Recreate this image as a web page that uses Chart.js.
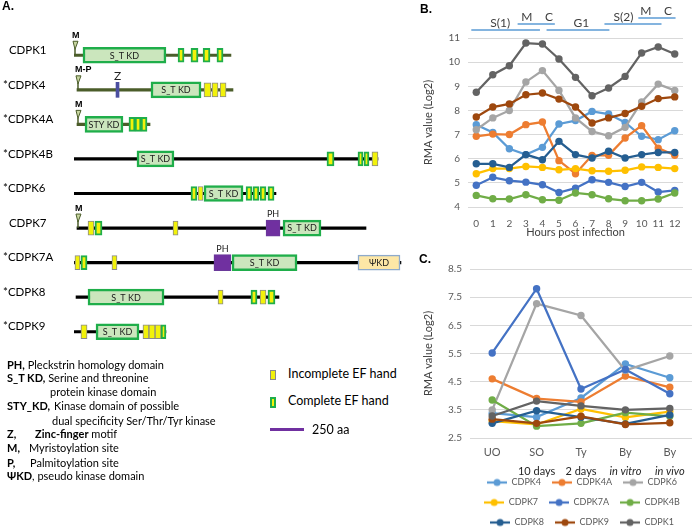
<!DOCTYPE html>
<html>
<head>
<meta charset="utf-8">
<script src="https://cdn.jsdelivr.net/npm/chart.js@4.4.1/dist/chart.umd.min.js"></script>
<style>
  html, body { margin: 0; padding: 0; background: #fff; width: 696px; height: 527px; overflow: hidden; }
  body { position: relative; font-family: Lato, "DejaVu Sans", sans-serif; color: #000; }
  canvas { position: absolute; }
  .t { position: absolute; white-space: pre; font-size: 11px; line-height: 14px; transform: translateY(-50%); }
  .k { font-size: 12.5px; }
  .tag { position: absolute; font: bold 12px "Liberation Sans", Arial, sans-serif; }
</style>
</head>
<body>
<canvas id="chartA" width="415" height="360" style="left:0;top:0"></canvas>
<canvas id="chartB" width="278" height="245" style="left:418px;top:0"></canvas>
<canvas id="chartC" width="278" height="282" style="left:418px;top:255px"></canvas>

<div class="tag" style="left:2px;top:-1px">A.</div>
<div class="tag" style="left:420px;top:2px">B.</div>
<div class="tag" style="left:419px;top:252px">C.</div>

<!-- key for panel A -->
<div class="t" style="left:7px;top:365px"><b>PH,</b> Pleckstrin homology domain</div>
<div class="t" style="left:7px;top:378px"><b>S_T KD,</b> Serine and threonine</div>
<div class="t" style="left:50px;top:392px">protein kinase domain</div>
<div class="t" style="left:7px;top:406px"><b>STY_KD,</b></div>
<div class="t" style="left:54px;top:406px">Kinase domain of possible</div>
<div class="t" style="left:52px;top:421px">dual specificity Ser/Thr/Tyr kinase</div>
<div class="t" style="left:7px;top:434px"><b>Z,</b></div>
<div class="t" style="left:35px;top:434px"><b>Zinc-finger</b> motif</div>
<div class="t" style="left:7px;top:448px"><b>M,</b></div>
<div class="t" style="left:29px;top:448px">Myristoylation site</div>
<div class="t" style="left:7px;top:463px"><b>P,</b></div>
<div class="t" style="left:30px;top:463px">Palmitoylation site</div>
<div class="t" style="left:7px;top:476px"><b>ΨKD</b>, pseudo kinase domain</div>

<div style="position:absolute;left:270px;top:370px;width:4px;height:8px;background:#f2f20a;border:1px solid #8a8a8a"></div>
<div class="t k" style="left:288px;top:374px">Incomplete EF hand</div>
<div style="position:absolute;left:270px;top:397px;width:2px;height:7px;background:#f2f20a;border:2px solid #1fae4a"></div>
<div class="t k" style="left:288px;top:401px">Complete EF hand</div>
<div style="position:absolute;left:270px;top:428px;width:34px;height:3px;background:#7030a0"></div>
<div class="t k" style="left:312px;top:430px">250 aa</div>

<script>
// ---------- expression data (panels B and C) ----------
const seriesNames = ['CDPK4', 'CDPK4A', 'CDPK6', 'CDPK7', 'CDPK7A', 'CDPK4B', 'CDPK8', 'CDPK9', 'CDPK1'];
const seriesColors = ['#5b9bd5', '#ed7d31', '#a5a5a5', '#ffc000', '#4472c4', '#70ad47', '#255e91', '#9e480e', '#636363'];

// B: hours post infection
const hours = ['0', '1', '2', '3', '4', '5', '6', '7', '8', '9', '10', '11', '12'];
const hpiCDPK4  = [7.41, 7.09, 6.41, 6.17, 6.47, 7.44, 7.58, 7.96, 7.85, 7.50, 6.93, 6.79, 7.16];
const hpiCDPK4A = [6.93, 7.02, 7.00, 7.41, 7.52, 5.92, 5.38, 6.14, 6.14, 6.86, 7.37, 6.44, 6.14];
const hpiCDPK6  = [7.20, 7.69, 8.00, 9.18, 9.65, 8.83, 7.69, 7.13, 6.95, 7.30, 8.35, 9.09, 8.83];
const hpiCDPK7  = [5.38, 5.59, 5.59, 5.68, 5.64, 5.54, 5.59, 5.50, 5.48, 5.52, 5.66, 5.64, 5.59];
const hpiCDPK7A = [4.90, 5.23, 5.09, 5.03, 4.92, 4.60, 4.78, 5.13, 5.02, 4.85, 5.02, 4.62, 4.69];
const hpiCDPK4B = [4.48, 4.34, 4.33, 4.51, 4.30, 4.28, 4.58, 4.51, 4.34, 4.26, 4.26, 4.33, 4.58];
const hpiCDPK8  = [5.79, 5.79, 5.64, 6.17, 5.96, 6.72, 6.17, 6.03, 6.31, 6.03, 6.17, 6.26, 6.26];
const hpiCDPK9  = [7.73, 8.14, 8.27, 8.65, 8.72, 8.47, 8.14, 7.48, 7.69, 7.87, 8.17, 8.49, 8.56];
const hpiCDPK1  = [8.75, 9.48, 9.85, 10.79, 10.75, 10.13, 9.37, 8.61, 8.93, 9.41, 10.38, 10.63, 10.34];
const hpiSeries = [hpiCDPK4, hpiCDPK4A, hpiCDPK6, hpiCDPK7, hpiCDPK7A, hpiCDPK4B, hpiCDPK8, hpiCDPK9, hpiCDPK1];

// cell cycle phases over the hours axis
const phaseText = ['S(1)', 'M', 'C', 'G1', 'S(2)', 'M', 'C'];
const phaseTextHour = [1.45, 3.05, 4.4, 6.35, 8.9, 10.25, 11.6];
const phaseTextLevel = [0, 1, 1, 0, 1, 2, 2];
const phaseLineFrom = [-0.3, 2.5, 4.25, 7.75, 9.8];
const phaseLineTo = [3.85, 4.75, 8.05, 11.2, 12.05];
const phaseLineLevel = [0, 1, 0, 1, 2];

// C: life cycle stages
const stages = ['UO', 'SO', 'Ty', 'By', 'By'];
const stageSub = ['', '10 days', '2 days', 'in vitro', 'in vivo'];
const stageSubItalic = [false, false, false, true, true];
const stageTicks = [2.5, 3.5, 4.5, 5.5, 6.5, 7.5, 8.5];
const stgCDPK4  = [3.38, 3.24, 3.92, 5.13, 4.64];
const stgCDPK4A = [4.60, 3.90, 3.78, 4.70, 4.30];
const stgCDPK6  = [3.50, 7.27, 6.85, 4.90, 5.41];
const stgCDPK7  = [3.10, 2.98, 3.53, 3.23, 3.44];
const stgCDPK7A = [5.52, 7.80, 4.24, 4.93, 4.07];
const stgCDPK4B = [3.85, 2.92, 3.02, 3.40, 3.27];
const stgCDPK8  = [3.02, 3.47, 3.24, 3.00, 3.32];
const stgCDPK9  = [3.17, 3.02, 3.27, 2.98, 3.04];
const stgCDPK1  = [3.28, 3.81, 3.64, 3.50, 3.55];
const stageSeries = [stgCDPK4, stgCDPK4A, stgCDPK6, stgCDPK7, stgCDPK7A, stgCDPK4B, stgCDPK8, stgCDPK9, stgCDPK1];

// ---------- domain architecture (panel A), positions in aa ----------
const proteins = ['  CDPK1', '*CDPK4', '*CDPK4A', '*CDPK4B', '*CDPK6', '  CDPK7', '*CDPK7A', '*CDPK8', '*CDPK9'];
const backboneStart = [0, 22, 22, 0, 0, 22, 0, 15, 0];
const backboneEnd = [1154, 1169, 559, 2235, 1485, 2147, 2404, 1507, 676];
const backboneColor = ['#4b5d2a', '#4b5d2a', '#4b5d2a', '#000', '#000', '#000', '#000', '#000', '#000'];

const kinaseRow = [0, 1, 2, 3, 4, 5, 6, 7, 8];
const kinaseStart = [66, 566, 81, 463, 956, 1537, 1162, 103, 162];
const kinaseEnd = [676, 934, 360, 735, 1243, 1816, 1640, 662, 478];
const kinaseName = ['S_T KD', 'S_T KD', 'STY KD', 'S_T KD', 'S_T KD', 'S_T KD', 'S_T KD', 'S_T KD', 'S_T KD'];

const pseudoRow = [6], pseudoStart = [2088], pseudoEnd = [2397], pseudoName = ['ΨKD'];
const phRow = [5, 6], phStart = [1412, 1029], phEnd = [1515, 1154];
const zincRow = [1], zincStart = [309], zincEnd = [331];

const efFullRow   = [0, 0, 0, 0, 2, 2, 2, 3, 3, 3, 4, 4, 4, 4, 4, 5, 6, 7, 7, 8];
const efFullStart = [765, 860, 949, 1051, 404, 449, 493, 1860, 2088, 2132, 860, 1265, 1316, 1368, 1426, 154, 51, 1301, 1426, 640];
const efFullEnd   = [809, 912, 1000, 1096, 449, 493, 537, 1912, 2125, 2169, 904, 1309, 1360, 1412, 1471, 206, 96, 1346, 1478, 676];

const efPartRow   = [1, 1, 1, 3, 4, 5, 5, 6, 6, 7, 7, 8, 8, 8, 8];
const efPartStart = [956, 1015, 1074, 2191, 912, 103, 728, 7, 279, 1059, 1368, 51, 507, 551, 596];
const efPartEnd   = [1007, 1059, 1118, 2235, 949, 147, 765, 44, 316, 1096, 1412, 96, 551, 596, 640];

const siteRow = [0, 1, 2, 5];
const siteAa = [0, 22, 22, 22];
const siteText = ['M', 'M-P', 'M', 'M'];

Chart.defaults.font.family = 'Lato, "DejaVu Sans", sans-serif';
Chart.defaults.animation = false;

// floating bars: y is the protein label, x is [start, end] in aa
function spans(rows, starts, ends) {
  return rows.map((r, i) => ({ y: proteins[r], x: [starts[i], ends[i]] }));
}

// labels inside / above domains, and lipid-site flags
const domainLabels = {
  id: 'domainLabels',
  afterDatasetsDraw(chart) {
    const ctx = chart.ctx;
    const xs = chart.scales.x, ys = chart.scales.y;
    ctx.save();
    ctx.textAlign = 'center';
    ctx.textBaseline = 'middle';
    chart.data.datasets.forEach((ds, di) => {
      const meta = chart.getDatasetMeta(di);
      if (ds.names) {
        ctx.font = '9px Lato, sans-serif';
        ctx.fillStyle = '#1a1a1a';
        meta.data.forEach((el, i) => {
          const c = el.getCenterPoint();
          ctx.fillText(ds.names[i], c.x, c.y + 0.5);
        });
      }
      if (ds.above) {
        ctx.font = ds.aboveFont;
        ctx.fillStyle = '#222';
        meta.data.forEach((el) => {
          const c = el.getCenterPoint();
          ctx.fillText(ds.above, c.x, c.y - 14);
        });
      }
    });
    // myristoylation / palmitoylation flags
    siteRow.forEach((r, i) => {
      const px = xs.getPixelForValue(siteAa[i]) + 1;
      const py = ys.getPixelForValue(r);
      ctx.strokeStyle = '#4b5d2a';
      ctx.lineWidth = 1.5;
      ctx.beginPath();
      ctx.moveTo(px, py - 7);
      ctx.lineTo(px, py);
      ctx.stroke();
      ctx.fillStyle = '#c9d7a2';
      ctx.lineWidth = 1;
      ctx.beginPath();
      ctx.moveTo(px - 2, py - 14);
      ctx.lineTo(px + 3, py - 14);
      ctx.lineTo(px, py - 6);
      ctx.closePath();
      ctx.fill();
      ctx.stroke();
      ctx.fillStyle = '#000';
      ctx.font = 'bold 9px "Liberation Sans", Arial, sans-serif';
      ctx.textAlign = 'left';
      ctx.fillText(siteText[i], px - 3, py - 20);
    });
    ctx.restore();
  }
};

const barBase = { grouped: false, borderSkipped: false };

new Chart(document.getElementById('chartA'), {
  type: 'bar',
  data: {
    labels: proteins,
    datasets: [
      Object.assign({ data: spans(kinaseRow, kinaseStart, kinaseEnd), names: kinaseName,
        backgroundColor: '#cbe6bd', borderColor: '#1fae4a', borderWidth: 2.5, barThickness: 16 }, barBase),
      Object.assign({ data: spans(pseudoRow, pseudoStart, pseudoEnd), names: pseudoName,
        backgroundColor: '#fde7a6', borderColor: '#8eaacb', borderWidth: 1.5, barThickness: 15 }, barBase),
      Object.assign({ data: spans(phRow, phStart, phEnd), above: 'PH', aboveFont: '9px Lato, sans-serif',
        backgroundColor: '#7030a0', borderColor: '#6a3a9a', borderWidth: 1, barThickness: 16 }, barBase),
      Object.assign({ data: spans(zincRow, zincStart, zincEnd), above: 'Z', aboveFont: '12px Lato, sans-serif',
        backgroundColor: '#4b4fa0', borderWidth: 0, barThickness: 15 }, barBase),
      Object.assign({ data: spans(efFullRow, efFullStart, efFullEnd),
        backgroundColor: '#f2f20a', borderColor: '#1fae4a', borderWidth: 2, barThickness: 14 }, barBase),
      Object.assign({ data: spans(efPartRow, efPartStart, efPartEnd),
        backgroundColor: '#f2f20a', borderColor: '#8a8a8a', borderWidth: 1, barThickness: 14 }, barBase),
      Object.assign({ data: spans(proteins.map((p, i) => i), backboneStart, backboneEnd),
        backgroundColor: backboneColor, borderWidth: 0, barThickness: 2.5 }, barBase)
    ]
  },
  options: {
    indexAxis: 'y',
    responsive: false,
    layout: { padding: { top: 38, bottom: 11, left: 3, right: 1 } },
    plugins: { legend: { display: false }, tooltip: { enabled: false } },
    scales: {
      x: { type: 'linear', min: 0, max: 2500, display: false },
      y: {
        type: 'category',
        grid: { display: false },
        border: { display: false },
        ticks: { crossAlign: 'far', color: '#000', font: { size: 11.5 }, labelOffset: -5, padding: 0 },
        afterFit: (s) => { s.width = 71; }
      }
    }
  },
  plugins: [domainLabels]
});

// ---------- panel B ----------
const phaseBars = {
  id: 'phaseBars',
  afterDraw(chart) {
    const { ctx, chartArea } = chart;
    const xs = chart.scales.x;
    const lineY = (lvl) => chartArea.top - 8 - lvl * 6;
    ctx.save();
    ctx.strokeStyle = '#5b9bd5';
    ctx.lineWidth = 1.5;
    phaseLineFrom.forEach((f, i) => {
      const y = lineY(phaseLineLevel[i]);
      ctx.beginPath();
      ctx.moveTo(xs.getPixelForValue(f), y);
      ctx.lineTo(xs.getPixelForValue(phaseLineTo[i]), y);
      ctx.stroke();
    });
    ctx.fillStyle = '#404040';
    ctx.font = '12px Lato, sans-serif';
    ctx.textAlign = 'center';
    ctx.textBaseline = 'middle';
    phaseText.forEach((t, i) => {
      ctx.fillText(t, xs.getPixelForValue(phaseTextHour[i]), lineY(phaseTextLevel[i]) - 6.5);
    });
    ctx.restore();
  }
};

function lineSets(values) {
  return seriesNames.map((name, i) => ({
    label: name,
    data: values[i],
    borderColor: seriesColors[i],
    backgroundColor: seriesColors[i],
    borderWidth: 2.25,
    pointRadius: 3.7,
    pointBorderWidth: 0,
    tension: 0,
    order: seriesNames.length - i
  }));
}

const axisTitleFont = { size: 11 };

new Chart(document.getElementById('chartB'), {
  type: 'line',
  data: { labels: hours, datasets: lineSets(hpiSeries) },
  options: {
    responsive: false,
    layout: { padding: { top: 38, right: 13, left: 0, bottom: 0 } },
    plugins: { legend: { display: false }, tooltip: { enabled: false } },
    scales: {
      x: {
        offset: true,
        grid: { display: false },
        border: { display: false },
        ticks: { color: '#595959', font: { size: 10 }, padding: 3, maxRotation: 0, autoSkip: false },
        title: { display: true, text: 'Hours post infection', color: '#404040', font: axisTitleFont, padding: { top: 1, bottom: 6 } },
        afterFit: (s) => { s.height = 38; }
      },
      y: {
        min: 4, max: 11,
        ticks: { stepSize: 1, color: '#595959', font: { size: 10 }, padding: 8 },
        grid: { color: '#d9d9d9', drawTicks: false },
        border: { display: false },
        title: { display: true, text: 'RMA value (Log2)', color: '#404040', font: axisTitleFont },
        afterFit: (s) => { s.width = 50; }
      }
    }
  },
  plugins: [phaseBars]
});

// ---------- panel C ----------
function legendMarker(color) {
  const c = document.createElement('canvas');
  c.width = 20; c.height = 10;
  const g = c.getContext('2d');
  g.strokeStyle = color;
  g.lineWidth = 2.25;
  g.beginPath(); g.moveTo(0, 5); g.lineTo(20, 5); g.stroke();
  g.fillStyle = color;
  g.beginPath(); g.arc(10, 5, 3.5, 0, Math.PI * 2); g.fill();
  return c;
}

const stageSubLabels = {
  id: 'stageSubLabels',
  afterDraw(chart) {
    const { ctx, chartArea } = chart;
    const xs = chart.scales.x;
    ctx.save();
    ctx.fillStyle = '#262626';
    ctx.textAlign = 'center';
    ctx.textBaseline = 'middle';
    stageSub.forEach((t, i) => {
      ctx.font = (stageSubItalic[i] ? 'italic ' : '') + '11px Lato, sans-serif';
      ctx.fillText(t, xs.getPixelForValue(i), chartArea.bottom + 33);
    });
    ctx.restore();
  }
};

// nudge the legend block right so it sits under the plot like the original
const legendNudge = {
  id: 'legendNudge',
  afterLayout(chart) {
    chart.legend.left += 26;
    chart.legend.right += 26;
  }
};

new Chart(document.getElementById('chartC'), {
  type: 'line',
  data: { labels: stages, datasets: lineSets(stageSeries) },
  options: {
    responsive: false,
    layout: { padding: { top: 8, right: 2, left: 0, bottom: 0 } },
    plugins: {
      tooltip: { enabled: false },
      legend: {
        position: 'bottom',
        labels: {
          usePointStyle: true,
          pointStyleWidth: 20,
          padding: 11,
          color: '#595959',
          font: { size: 9 },
          sort: (a, b) => a.datasetIndex - b.datasetIndex,
          generateLabels(chart) {
            const items = Chart.defaults.plugins.legend.labels.generateLabels(chart);
            items.forEach((it) => { it.pointStyle = legendMarker(seriesColors[it.datasetIndex]); });
            return items;
          }
        }
      }
    },
    scales: {
      x: {
        offset: true,
        grid: { display: false },
        border: { display: false },
        ticks: { color: '#595959', font: { size: 11 }, padding: 0, maxRotation: 0, autoSkip: false },
        afterFit: (s) => { s.height = 29; }
      },
      y: {
        min: 2.5, max: 8.5,
        afterBuildTicks: (s) => { s.ticks = stageTicks.map((v) => ({ value: v })); },
        ticks: { color: '#595959', font: { size: 10 }, padding: 8, callback: (v) => Number(v).toFixed(1) },
        grid: { color: '#d9d9d9', drawTicks: false },
        border: { display: false },
        title: { display: true, text: 'RMA value (Log2)', color: '#404040', font: axisTitleFont },
        afterFit: (s) => { s.width = 52; }
      }
    }
  },
  plugins: [stageSubLabels, legendNudge]
});
</script>
</body>
</html>
